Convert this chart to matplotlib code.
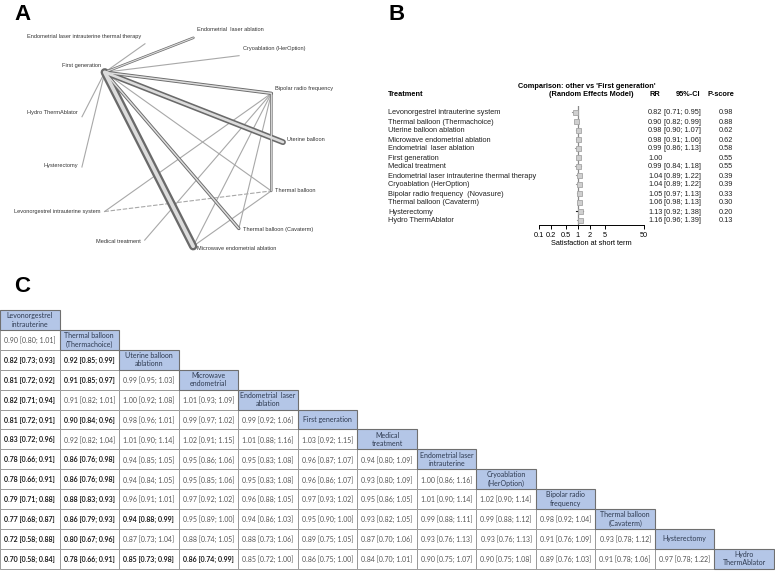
import numpy as np
import matplotlib
matplotlib.use("Agg")
import matplotlib.pyplot as plt
from matplotlib.patches import Rectangle

# ---------------- panel A: network of comparisons ----------------
net_nodes = ["Endometrial  laser ablation", "Cryoablation (HerOption)",
             "Bipolar radio frequency", "Uterine balloon", "Thermal balloon",
             "Thermal balloon (Cavaterm)", "Microwave endometrial ablation",
             "Medical treatment", "Levonorgestrel intrauterine system",
             "Hysterectomy", "Hydro ThermAblator", "First generation",
             "Endometrial laser intrauterine thermal therapy"]
edge_from = ["First generation", "First generation", "First generation",
             "First generation", "First generation", "Bipolar radio frequency",
             "First generation", "First generation", "First generation",
             "First generation", "First generation", "Bipolar radio frequency",
             "Bipolar radio frequency", "Bipolar radio frequency",
             "Bipolar radio frequency", "Levonorgestrel intrauterine system",
             "Microwave endometrial ablation"]
edge_to = ["Microwave endometrial ablation", "Uterine balloon",
           "Thermal balloon (Cavaterm)", "Bipolar radio frequency",
           "Endometrial  laser ablation", "Thermal balloon",
           "Endometrial laser intrauterine thermal therapy",
           "Cryoablation (HerOption)", "Thermal balloon", "Hydro ThermAblator",
           "Hysterectomy", "Levonorgestrel intrauterine system",
           "Medical treatment", "Microwave endometrial ablation",
           "Thermal balloon (Cavaterm)", "Thermal balloon", "Thermal balloon"]
edge_studies = [9, 6, 3, 3, 2, 2, 1, 1, 1, 1, 1, 1, 1, 1, 1, 1, 1]

# ---------------- panel B: forest plot vs first generation ----------------
fp_names = ["Levonorgestrel intrauterine system", "Thermal balloon (Thermachoice)",
            "Uterine balloon ablation", "Microwave endometrial ablation",
            "Endometrial  laser ablation", "First generation", "Medical treatment",
            "Endometrial laser intrauterine thermal therapy",
            "Cryoablation (HerOption)", "Bipolar radio frequency  (Novasure)",
            "Thermal balloon (Cavaterm)", "Hysterectomy", "Hydro ThermAblator"]
fp_rr = [0.82, 0.90, 0.98, 0.98, 0.99, 1.00, 0.99, 1.04, 1.04, 1.05, 1.06, 1.13, 1.16]
fp_lo = [0.71, 0.82, 0.90, 0.91, 0.86, None, 0.84, 0.89, 0.89, 0.97, 0.98, 0.92, 0.96]
fp_hi = [0.95, 0.99, 1.07, 1.06, 1.13, None, 1.18, 1.22, 1.22, 1.13, 1.13, 1.38, 1.39]
fp_pscore = [0.98, 0.88, 0.62, 0.62, 0.58, 0.55, 0.55, 0.39, 0.39, 0.33, 0.30, 0.20, 0.13]
fp_ticks = [0.1, 0.2, 0.5, 1, 2, 5, 50]

# ---------------- panel C: league table ----------------
league_heads = ["Levonorgestrel\nintrauterine", "Thermal balloon\n(Thermachoice)",
                "Uterine balloon\nablationn", "Microwave\nendometrial",
                "Endometrial  laser\nablation", "First generation",
                "Medical\ntreatment", "Endometrial laser\nintrauterine",
                "Cryoablation\n(HerOption)", "Bipolar radio\nfrequency",
                "Thermal balloon\n(Cavaterm)", "Hysterectomy", "Hydro\nThermAblator"]
league_rr = [
    [],
    [0.90],
    [0.82, 0.92],
    [0.81, 0.91, 0.99],
    [0.82, 0.91, 1.00, 1.01],
    [0.81, 0.90, 0.98, 0.99, 0.99],
    [0.83, 0.92, 1.01, 1.02, 1.01, 1.03],
    [0.78, 0.86, 0.94, 0.95, 0.95, 0.96, 0.94],
    [0.78, 0.86, 0.94, 0.95, 0.95, 0.96, 0.93, 1.00],
    [0.79, 0.88, 0.96, 0.97, 0.96, 0.97, 0.95, 1.01, 1.02],
    [0.77, 0.86, 0.94, 0.95, 0.94, 0.95, 0.93, 0.99, 0.99, 0.98],
    [0.72, 0.80, 0.87, 0.88, 0.88, 0.89, 0.87, 0.93, 0.93, 0.91, 0.93],
    [0.70, 0.78, 0.85, 0.86, 0.85, 0.86, 0.84, 0.90, 0.90, 0.89, 0.91, 0.97],
]
league_lo = [
    [],
    [0.80],
    [0.73, 0.85],
    [0.72, 0.85, 0.95],
    [0.71, 0.82, 0.92, 0.93],
    [0.72, 0.84, 0.96, 0.97, 0.92],
    [0.72, 0.82, 0.90, 0.91, 0.88, 0.92],
    [0.66, 0.76, 0.85, 0.86, 0.83, 0.87, 0.80],
    [0.66, 0.76, 0.84, 0.85, 0.83, 0.86, 0.80, 0.86],
    [0.71, 0.83, 0.91, 0.92, 0.88, 0.93, 0.86, 0.90, 0.90],
    [0.68, 0.79, 0.88, 0.89, 0.86, 0.90, 0.82, 0.88, 0.88, 0.92],
    [0.58, 0.67, 0.73, 0.74, 0.73, 0.75, 0.70, 0.76, 0.76, 0.76, 0.78],
    [0.58, 0.66, 0.73, 0.74, 0.72, 0.75, 0.70, 0.75, 0.75, 0.76, 0.78, 0.78],
]
league_hi = [
    [],
    [1.01],
    [0.93, 0.99],
    [0.92, 0.97, 1.03],
    [0.94, 1.01, 1.08, 1.09],
    [0.91, 0.96, 1.01, 1.02, 1.06],
    [0.96, 1.04, 1.14, 1.15, 1.16, 1.15],
    [0.91, 0.98, 1.05, 1.06, 1.08, 1.07, 1.09],
    [0.91, 0.98, 1.05, 1.06, 1.08, 1.07, 1.09, 1.16],
    [0.88, 0.93, 1.01, 1.02, 1.05, 1.02, 1.05, 1.14, 1.14],
    [0.87, 0.93, 0.99, 1.00, 1.03, 1.00, 1.05, 1.11, 1.12, 1.04],
    [0.88, 0.96, 1.04, 1.05, 1.06, 1.05, 1.06, 1.13, 1.13, 1.09, 1.12],
    [0.84, 0.91, 0.98, 0.99, 1.00, 1.00, 1.01, 1.07, 1.08, 1.03, 1.06, 1.22],
]

SANS = "Liberation Sans"
TAB_FONT = "Lato"


def main():
    fig = plt.figure(figsize=(7.75, 5.71), dpi=100)
    ax = fig.add_axes([0, 0, 1, 1])
    ax.set_xlim(0, 775)
    ax.set_ylim(571, 0)
    ax.axis("off")

    for lab, x, y in [("A", 14, 4), ("B", 388, 4), ("C", 14, 276)]:
        ax.text(x, y, lab, fontsize=16, fontweight="bold", family=SANS,
                va="top", ha="left")

    # --- A: circular layout, evenly spaced
    cx, cy, rx, ry = 181, 142, 102, 105
    ang = np.deg2rad(83 - np.arange(len(net_nodes)) * 360 / len(net_nodes))
    nx = cx + rx * np.cos(ang)
    ny = cy - ry * np.sin(ang)
    pos = {n: (nx[i], ny[i]) for i, n in enumerate(net_nodes)}

    order = np.argsort(edge_studies, kind="stable")
    for k in order:
        (x0, y0), (x1, y1) = pos[edge_from[k]], pos[edge_to[k]]
        n = edge_studies[k]
        if n == 1:
            ls = (0, (4, 1.5)) if edge_from[k].startswith("Levo") else "-"
            ax.plot([x0, x1], [y0, y1], color="#a8a8a8", lw=0.8, ls=ls,
                    zorder=2)
        else:
            w = 0.6 * n + 0.6
            ax.plot([x0, x1], [y0, y1], color="#6a6a6a", lw=w,
                    solid_capstyle="round", zorder=3)
            ax.plot([x0, x1], [y0, y1], color="#dcdcdc", lw=w * 0.45,
                    solid_capstyle="round", zorder=4)
    for i, n in enumerate(net_nodes):
        c, s = np.cos(ang[i]), np.sin(ang[i])
        right = c > 0.05
        ax.text(nx[i] + (4 if right else -4), ny[i] - 5 * s - 3, n,
                ha="left" if right else "right", va="center",
                fontsize=4.1, family=SANS, color="#333333")

    # --- B: forest plot text
    rows_y = 112 + 9 * np.arange(len(fp_names))
    fs = 5.3
    vb = "center_baseline"
    ax.text(388, 94, "Treatment", fontsize=fs, fontweight="bold", family=SANS,
            va=vb)
    ax.text(587, 85, "Comparison: other vs 'First generation'", fontsize=fs,
            fontweight="bold", family=SANS, ha="center", va=vb)
    ax.text(591, 94, "(Random Effects Model)", fontsize=fs, fontweight="bold",
            family=SANS, ha="center", va=vb)
    ax.text(655, 94, "RR", fontsize=fs, fontweight="bold", family=SANS,
            ha="center", va=vb)
    ax.text(700, 94, "95%-CI", fontsize=fs, fontweight="bold", family=SANS,
            ha="right", va=vb)
    ax.text(734, 94, "P-score", fontsize=fs, fontweight="bold", family=SANS,
            ha="right", va=vb)
    for i, name in enumerate(fp_names):
        y = rows_y[i]
        ax.text(388, y, name, fontsize=fs, family=SANS, va=vb,
                color="#222222")
        ax.text(648, y, f"{fp_rr[i]:.2f}", fontsize=fs, family=SANS,
                va=vb, color="#222222")
        if fp_lo[i] is not None:
            ax.text(664, y, f"[{fp_lo[i]:.2f}; {fp_hi[i]:.2f}]", fontsize=fs,
                    family=SANS, va=vb, color="#222222")
        ax.text(733, y, f"{fp_pscore[i]:.2f}", fontsize=fs, family=SANS,
                va=vb, ha="right", color="#222222")

    fax = fig.add_axes([539 / 775, 1 - 225 / 571, 105 / 775, (225 - 106) / 571])
    fax.set_xscale("log")
    fax.set_xlim(0.1, 50)
    fax.set_ylim(225, 106)
    fax.patch.set_alpha(0)
    for sp in ["top", "left", "right"]:
        fax.spines[sp].set_visible(False)
    fax.spines["bottom"].set_linewidth(0.7)
    fax.axvline(1, color="#8a8a8a", lw=0.9, zorder=1)
    for i in range(len(fp_names)):
        if fp_lo[i] is not None:
            fax.plot([fp_lo[i], fp_hi[i]], [rows_y[i]] * 2,
                     color="#222222" if fp_names[i] == "Hysterectomy" else "#9a9a9a",
                     lw=0.8, zorder=2)
        fax.plot(fp_rr[i], rows_y[i], marker="s", ms=3.6, mfc="#cfcfcf",
                 mec="#a5a5a5", mew=0.6, zorder=3)
    fax.set_xticks(fp_ticks)
    fax.set_xticklabels([f"{t:g}" for t in fp_ticks], fontsize=fs, family=SANS)
    fax.minorticks_off()
    fax.tick_params(axis="x", length=3, width=0.7, pad=2)
    fax.set_yticks([])
    fax.set_xlabel("Satisfaction at short term", fontsize=fs, family=SANS,
                   labelpad=1)

    # --- C: league table
    cw, rh, top = 774 / 13, 19.9, 310
    for i, head in enumerate(league_heads):
        x, y = i * cw, top + i * rh
        ax.add_patch(Rectangle((x, y), cw, rh, facecolor="#b4c6e7",
                               edgecolor="#6f6f6f", lw=0.8, zorder=3))
        ax.text(x + cw / 2, y + rh / 2, head, ha="center", va="center",
                fontsize=5.0, family=TAB_FONT, color="#2e3a50",
                linespacing=1.2, zorder=4)
        for j in range(i):
            xj = j * cw
            ax.add_patch(Rectangle((xj, y), cw, rh, facecolor="white",
                                   edgecolor="#9a9a9a", lw=0.7, zorder=2))
            sig = league_hi[i][j] < 1 or league_lo[i][j] > 1
            ax.text(xj + cw / 2, y + rh / 2,
                    f"{league_rr[i][j]:.2f} [{league_lo[i][j]:.2f}; {league_hi[i][j]:.2f}]",
                    ha="center", va="center_baseline", fontsize=5.0,
                    family=TAB_FONT,
                    fontweight="bold" if sig else "normal",
                    color="#1a1a1a" if sig else "#555555", zorder=4)

    fig.savefig("out.png", dpi=100)


if __name__ == "__main__":
    main()
